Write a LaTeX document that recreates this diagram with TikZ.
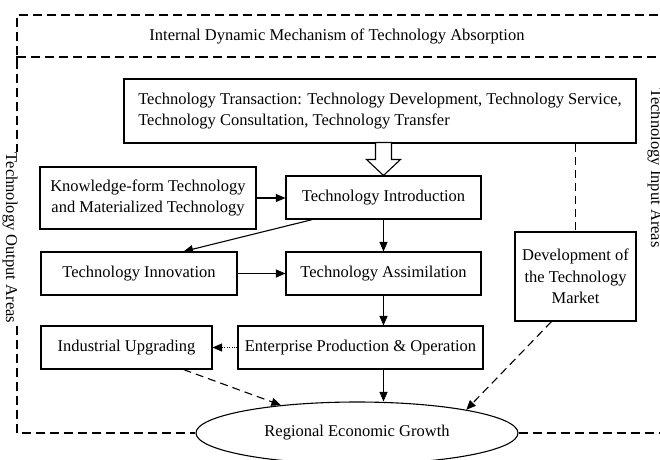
\documentclass[tikz,border=0pt]{standalone}
\usepackage{fontspec}
\setmainfont{Liberation Serif}
\usetikzlibrary{arrows.meta,calc,shapes.geometric}
\begin{document}
\begin{tikzpicture}[x=1pt,y=-1pt,
  every node/.style={font=\fontsize{16.5}{21.5}\selectfont, inner sep=0pt},
  box/.style={draw, line width=1.1pt, align=center},
  link/.style={line width=1.1pt, -{Triangle[length=9.5pt,width=8pt]}},
  dashlink/.style={link, dash pattern=on 8pt off 5pt},
  dotlink/.style={line width=1pt, dash pattern=on 1pt off 1.4pt, -{Triangle[length=9.5pt,width=8pt]}},
  framedash/.style={line width=1.1pt, dash pattern=on 9pt off 5pt},
]
\useasboundingbox (0,0) rectangle (660,459);
\clip (0,0) rectangle (660,459);

% frame corners
\coordinate (ftl) at (17,15);
\coordinate (ftr) at (672,15);
\coordinate (fml) at (17,57);
\coordinate (fmr) at (672,57);
\coordinate (fbl) at (17,433);
\coordinate (fbr) at (672,433);

% boxes
\node[box, align=left, minimum width=512pt, minimum height=64pt] (deal) at (380,111)
  {Technology Transaction: Technology Development, Technology Service,\\Technology Consultation, Technology Transfer};
\node[box, minimum width=216pt, minimum height=62pt] (know) at (148,198)
  {Knowledge-form Technology\\and Materialized Technology};
\node[box, minimum width=195pt, minimum height=43pt] (intro) at (383.5,197.5) {Technology Introduction};
\node[box, minimum width=196pt, minimum height=43pt] (innov) at (139,273.5) {Technology Innovation};
\node[box, minimum width=195pt, minimum height=43pt] (assim) at (383.5,273.5) {Technology Assimilation};
\node[box, minimum width=121pt, minimum height=89pt] (dev) at (575.5,276.5)
  {Development of\\the Technology\\Market};
\node[box, minimum width=171pt, minimum height=43pt] (ind) at (126.5,347.5) {Industrial Upgrading};
\node[box, minimum width=245pt, minimum height=43pt] (ent) at (360.5,347.5) {Enterprise Production \& Operation};
\node[ellipse, draw, line width=1.1pt, fill=white, minimum width=322pt, minimum height=62pt] (reg) at (357,433)
  {Regional Economic Growth};

% frame
\draw[framedash] (ftr) -- (ftl) -- (fbl) -- (reg.west);
\draw[framedash] (reg.east) -- (fbr);
\draw[framedash] (fml) -- (fmr);
\draw[line width=1.1pt] ($(fml)+(0,6)$) -- (fml) -- ++(7,0);
\node (title) at (337,36) {Internal Dynamic Mechanism of Technology Absorption};
\node[fill=white, inner sep=1pt, rotate=-90] (outl) at (10,238) {Technology Output Areas};
\node[rotate=-90] (inl) at (655,168) {Technology Input Areas};

% hollow block arrow into the introduction box
\draw[line width=1.1pt, fill=white] (intro.north) -- ++(-17,-16) -- ++(9,0) -- ++(0,-17)
  -- ++(16,0) -- ++(0,17) -- ++(9,0) -- cycle;

% connectors
\draw[link] (know.east) -- (know.east -| intro.west);
\draw[link] (intro) -- (assim);
\draw[link] ($(intro.south west)+(27,0)$) -- ($(innov.north east)+(-54,0)$);
\draw[link] (innov) -- (assim);
\draw[link] (assim.south) -- (assim.south |- ent.north);
\draw[dotlink] (ent) -- (ind);
\draw[link] (assim.south |- ent.south) -- (assim.south |- reg.north);
\draw[dashlink] ($(ind.south east)+(-29,0)$) -- (reg);
\draw[dashlink] ($(dev.south)+(-24,0)$) -- (reg.12);
\draw[line width=1.1pt, dash pattern=on 8pt off 5pt] (dev.north |- deal.south) -- (dev.north);
\end{tikzpicture}
\end{document}
